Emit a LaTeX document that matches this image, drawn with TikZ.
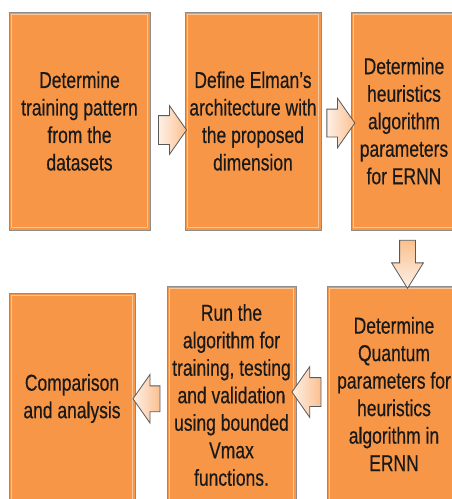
\documentclass[tikz,border=0pt]{standalone}
\usepackage{fontspec}
\setmainfont{Liberation Sans}[FakeStretch=0.76,FakeBold=0.4]
\usetikzlibrary{shapes.arrows,calc}
\definecolor{boxorange}{HTML}{F79646}
\definecolor{boxrim}{HTML}{FAC79A}
\definecolor{boxline}{HTML}{8C8C8C}
\definecolor{arrowlight}{HTML}{FEF0E6}
\definecolor{arrowpeach}{HTML}{FAC090}
\definecolor{arrowline}{HTML}{595959}
\tikzset{
  stepbox/.style={rectangle, draw=boxline, fill=boxorange, line width=0.8pt,
    inner sep=0pt, align=center, text=black!90,
    font=\fontsize{23pt}{27.5pt}\selectfont,
    path picture={\draw[boxrim, line width=1.5pt]
      ([shift={(2.5pt,-2.5pt)}]path picture bounding box.north west) rectangle
      ([shift={(-2.5pt,2.5pt)}]path picture bounding box.south east);}},
  blockarrow/.style={single arrow, draw=arrowline, line width=0.8pt,
    inner xsep=0pt, left color=arrowlight, right color=arrowpeach,
    single arrow tip angle=110}
}
\begin{document}
\begin{tikzpicture}[x=1pt,y=-1pt]
      \useasboundingbox (0,0) rectangle (451,499);
      \node[stepbox, minimum width=141pt, minimum height=218pt] (train) at (79.5,121)
        {Determine\\training pattern\\from the\\datasets};
      \node[stepbox, minimum width=136pt, minimum height=218pt] (elman) at (253,121)
        {Define Elman’s\\architecture with\\the proposed\\dimension};
      \node[stepbox, minimum width=106pt, minimum height=218pt] (heur) at (404,121)
        {Determine\\heuristics\\algorithm\\parameters\\for ERNN};
      \node[stepbox, minimum width=134pt, minimum height=216pt] (quantum) at (394,394)
        {Determine\\Quantum\\parameters for\\heuristics\\algorithm in\\ERNN};
      \node[stepbox, minimum width=129pt, minimum height=218pt] (run) at (231.5,395)
        {Run the\\algorithm for\\training, testing\\and validation\\using bounded\\Vmax\\functions.};
      \node[stepbox, minimum width=126pt, minimum height=211pt] (compare) at (72,398.5)
        {Comparison\\and analysis};
      % block arrows between the steps
      \node[blockarrow, minimum height=28pt, inner ysep=14pt, single arrow head extend=10pt,
        yshift=-9pt] (a1) at ($(train.east)!.5!(elman.west)$) {};
      \node[blockarrow, minimum height=28pt, inner ysep=13.5pt, single arrow head extend=11pt,
        yshift=-2pt] (a2) at ($(elman.east)!.5!(heur.west)$) {};
      \node[blockarrow, shape border rotate=270, minimum height=48pt, inner xsep=7.5pt,
        inner ysep=0pt, single arrow head extend=8pt, single arrow tip angle=64,
        top color=arrowpeach, bottom color=arrowlight, xshift=8.5pt]
        (a3) at ($(heur.south)!.5!(quantum.north)$) {};
      \node[blockarrow, shape border rotate=180, minimum height=29pt, inner ysep=14pt,
        single arrow head extend=11pt, yshift=2.5pt] (a4) at ($(quantum.west)!.5!(run.east)$) {};
      \node[blockarrow, shape border rotate=180, minimum height=27pt, inner ysep=12.5pt,
        single arrow head extend=11.5pt, yshift=-2pt] (a5) at ($(run.west)!.5!(compare.east)$) {};
\end{tikzpicture}
\end{document}
